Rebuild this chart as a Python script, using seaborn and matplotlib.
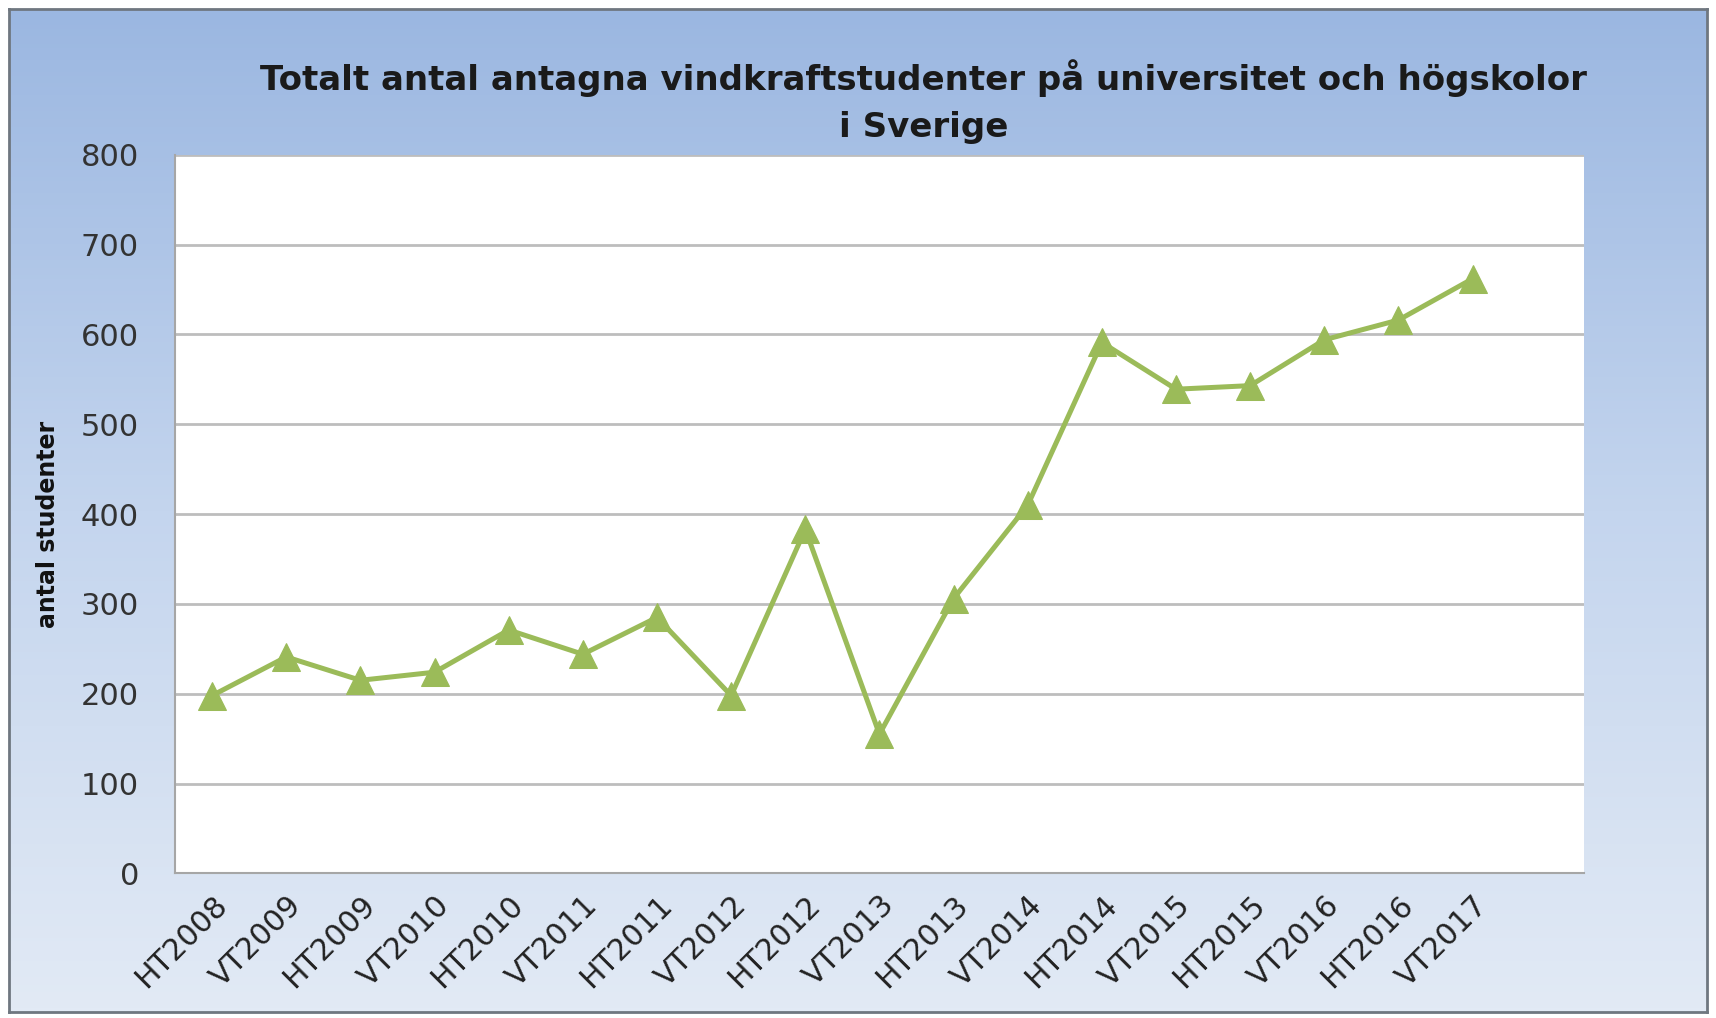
import numpy as np
import pandas as pd
import seaborn as sns
import matplotlib.pyplot as plt
from matplotlib.colors import LinearSegmentedColormap

terms = ['HT2008', 'VT2009', 'HT2009', 'VT2010', 'HT2010', 'VT2011', 'HT2011',
         'VT2012', 'HT2012', 'VT2013', 'HT2013', 'VT2014', 'HT2014', 'VT2015',
         'HT2015', 'VT2016', 'HT2016', 'VT2017']
students = [198, 241, 215, 224, 271, 244, 285, 198, 383, 155, 306, 410, 591,
            539, 543, 594, 616, 662]
yticks = [0, 100, 200, 300, 400, 500, 600, 700, 800]

df = pd.DataFrame({'termin': terms, 'antal': students})

sns.set_style('white')
plt.rcParams['font.family'] = ['DejaVu Sans']

fig = plt.figure(figsize=(17.16, 10.18), dpi=100)

# gradient background of the chart frame
bg = fig.add_axes([0.005, 0.006, 0.99, 0.985], zorder=0)
grad = LinearSegmentedColormap.from_list('bg', ['#e2eaf5', '#c4d5ee', '#9bb7e1'])
bg.imshow(np.linspace(0, 1, 256).reshape(-1, 1), aspect='auto', cmap=grad,
          origin='lower', extent=[0, 1, 0, 1])
bg.set_xlim(0, 1)
bg.set_ylim(0, 1)
bg.set_xticks([])
bg.set_yticks([])
for s in bg.spines.values():
    s.set_color('#6f7780')
    s.set_linewidth(2)

ax = fig.add_axes([0.102, 0.142, 0.821, 0.706], zorder=1)
ax.set_facecolor('white')

sns.lineplot(data=df, x='termin', y='antal', ax=ax, color='#9bbb59',
             linewidth=3.6, marker='^', markersize=20, markeredgecolor='#9bbb59',
             zorder=3)

ax.set_xlim(-0.5, len(terms) + 0.5)
ax.set_ylim(0, 800)
ax.set_yticks(yticks)
ax.yaxis.grid(True, color='#bdbdbd', linewidth=2)
ax.set_axisbelow(True)
for side in ['top', 'right']:
    ax.spines[side].set_visible(False)
ax.spines['left'].set_color('#a6a6a6')
ax.spines['bottom'].set_color('#a6a6a6')
ax.spines['left'].set_linewidth(1.5)
ax.spines['bottom'].set_linewidth(1.5)

ax.tick_params(axis='y', labelsize=22, labelcolor='#333333', length=0, pad=26)
ax.tick_params(axis='x', labelsize=21.5, labelcolor='#222222', length=0, pad=12)
plt.setp(ax.get_xticklabels(), rotation=45, ha='right', rotation_mode='anchor')

ax.set_xlabel('')
ax.set_ylabel('antal studenter', fontsize=17, fontweight='bold', color='#111111')
ax.yaxis.set_label_coords(-0.082, 0.485)

fig.text(0.538, 0.90, 'Totalt antal antagna vindkraftstudenter på universitet och högskolor\ni Sverige',
         ha='center', va='center', fontsize=24.5, fontweight='bold', color='#1a1a1a',
         linespacing=1.55)

fig.savefig('out.png', dpi=100)
